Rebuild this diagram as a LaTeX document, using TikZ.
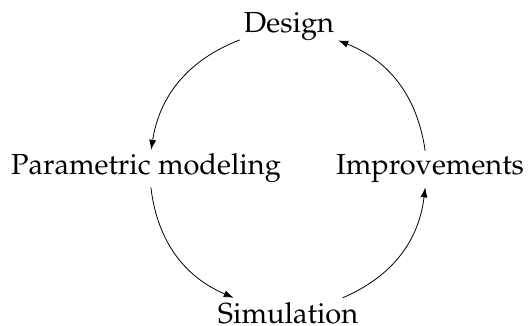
\documentclass[tikz,border=0pt]{standalone}
\usepackage[T1]{fontenc}
\usepackage{mathpazo}
\usetikzlibrary{arrows.meta}
\begin{document}
\begin{tikzpicture}[x=1pt,y=-1pt,
  stage/.style={font=\fontsize{29}{35}\selectfont, inner sep=4pt},
  flow/.style={line width=0.8pt, -{Latex[length=10pt,width=7pt]}}]
  \useasboundingbox (0,0) rectangle (530,326);
  \node[stage, anchor=base] (design) at (289,33) {Design};
  \node[stage, anchor=base] (param)  at (146,175) {Parametric modeling};
  \node[stage, anchor=base] (improv) at (430,175) {Improvements};
  \node[stage, anchor=base] (sim)    at (288,323) {Simulation};
  \draw[flow] (design) to[bend right=30] (param);
  \draw[flow] (param)  to[bend right=30] (sim);
  \draw[flow] (sim)    to[bend right=30] (improv);
  \draw[flow] (improv) to[bend right=30] (design);
\end{tikzpicture}
\end{document}
